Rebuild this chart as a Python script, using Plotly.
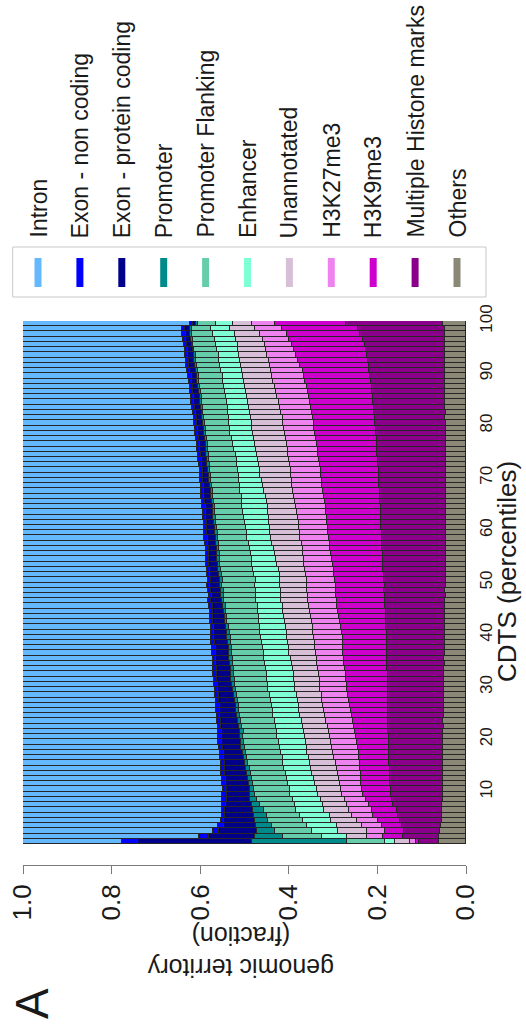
import plotly.graph_objects as go

# ---------------- data (fraction of genomic territory per CDTS percentile 1..100) ----------------
percentiles = list(range(1, 101))

categories = ["Intron", "Exon - non coding", "Exon - protein coding", "Promoter",
              "Promoter Flanking", "Enhancer", "Unannotated", "H3K27me3", "H3K9me3",
              "Multiple Histone marks", "Others"]

colors = ["#63B8FF", "#0000FF", "#00008B", "#008B8B", "#66CDAA", "#7FFFD4",
          "#D8BFD8", "#EE82EE", "#CD00CD", "#8B008B", "#8B8878"]

intron = [
    0.223, 0.398, 0.430, 0.441, 0.447, 0.449, 0.450, 0.450, 0.450, 0.450,
    0.451, 0.450, 0.449, 0.448, 0.447, 0.446, 0.445, 0.444, 0.442, 0.441,
    0.441, 0.440, 0.440, 0.439, 0.438, 0.437, 0.436, 0.435, 0.434, 0.433,
    0.432, 0.431, 0.430, 0.429, 0.429, 0.428, 0.427, 0.426, 0.425, 0.424,
    0.424, 0.423, 0.423, 0.422, 0.421, 0.420, 0.419, 0.419, 0.418, 0.417,
    0.417, 0.416, 0.415, 0.414, 0.413, 0.413, 0.412, 0.411, 0.410, 0.409,
    0.408, 0.408, 0.407, 0.406, 0.405, 0.404, 0.403, 0.402, 0.401, 0.400,
    0.400, 0.399, 0.398, 0.396, 0.395, 0.393, 0.392, 0.391, 0.389, 0.388,
    0.386, 0.385, 0.383, 0.382, 0.380, 0.379, 0.377, 0.376, 0.374, 0.373,
    0.371, 0.369, 0.368, 0.366, 0.365, 0.363, 0.362, 0.360, 0.359, 0.376]

exon_noncoding = [
    0.036, 0.021, 0.013, 0.012, 0.007, 0.007, 0.007, 0.008, 0.010, 0.010,
    0.009, 0.009, 0.009, 0.009, 0.009, 0.009, 0.009, 0.009, 0.009, 0.009,
    0.008, 0.009, 0.008, 0.008, 0.007, 0.008, 0.009, 0.008, 0.008, 0.007,
    0.008, 0.008, 0.009, 0.008, 0.007, 0.008, 0.008, 0.009, 0.008, 0.008,
    0.007, 0.007, 0.007, 0.007, 0.007, 0.007, 0.007, 0.007, 0.007, 0.007,
    0.007, 0.007, 0.007, 0.007, 0.007, 0.007, 0.007, 0.007, 0.007, 0.007,
    0.007, 0.007, 0.007, 0.007, 0.007, 0.007, 0.007, 0.007, 0.007, 0.007,
    0.007, 0.007, 0.007, 0.007, 0.007, 0.007, 0.007, 0.007, 0.007, 0.007,
    0.007, 0.007, 0.007, 0.007, 0.007, 0.007, 0.007, 0.007, 0.007, 0.007,
    0.007, 0.007, 0.007, 0.007, 0.007, 0.007, 0.007, 0.007, 0.007, 0.008]

exon_protein = [
    0.258, 0.105, 0.085, 0.073, 0.070, 0.066, 0.063, 0.059, 0.053, 0.053,
    0.052, 0.051, 0.050, 0.049, 0.047, 0.046, 0.044, 0.043, 0.042, 0.041,
    0.041, 0.041, 0.039, 0.039, 0.038, 0.037, 0.036, 0.035, 0.034, 0.033,
    0.032, 0.032, 0.031, 0.031, 0.030, 0.030, 0.030, 0.030, 0.030, 0.030,
    0.029, 0.028, 0.026, 0.026, 0.025, 0.024, 0.023, 0.022, 0.022, 0.021,
    0.020, 0.020, 0.019, 0.019, 0.019, 0.018, 0.018, 0.018, 0.018, 0.018,
    0.018, 0.016, 0.016, 0.016, 0.016, 0.015, 0.015, 0.014, 0.014, 0.013,
    0.012, 0.011, 0.011, 0.012, 0.012, 0.013, 0.013, 0.012, 0.013, 0.013,
    0.013, 0.013, 0.013, 0.013, 0.013, 0.013, 0.013, 0.013, 0.013, 0.013,
    0.013, 0.013, 0.012, 0.012, 0.011, 0.011, 0.010, 0.010, 0.011, 0.007]

promoter = [
    0.214, 0.064, 0.041, 0.036, 0.030, 0.028, 0.023, 0.017, 0.016, 0.011,
    0.010, 0.009, 0.009, 0.009, 0.009, 0.008, 0.008, 0.008, 0.008, 0.008,
    0.008, 0.008, 0.007, 0.007, 0.007, 0.007, 0.007, 0.007, 0.007, 0.007,
    0.007, 0.007, 0.007, 0.007, 0.007, 0.007, 0.007, 0.007, 0.007, 0.007,
    0.006, 0.006, 0.006, 0.006, 0.006, 0.006, 0.006, 0.006, 0.006, 0.006,
    0.006, 0.006, 0.006, 0.006, 0.006, 0.006, 0.006, 0.006, 0.006, 0.006,
    0.005, 0.005, 0.005, 0.005, 0.005, 0.005, 0.005, 0.005, 0.005, 0.005,
    0.005, 0.005, 0.005, 0.005, 0.005, 0.005, 0.005, 0.005, 0.005, 0.005,
    0.004, 0.004, 0.004, 0.004, 0.004, 0.004, 0.004, 0.004, 0.004, 0.004,
    0.004, 0.004, 0.004, 0.004, 0.004, 0.004, 0.004, 0.004, 0.004, 0.005]

promoter_flanking = [
    0.086, 0.086, 0.083, 0.080, 0.078, 0.076, 0.074, 0.080, 0.080, 0.079,
    0.080, 0.080, 0.079, 0.078, 0.078, 0.079, 0.080, 0.079, 0.079, 0.078,
    0.077, 0.076, 0.076, 0.075, 0.074, 0.075, 0.073, 0.074, 0.075, 0.073,
    0.074, 0.073, 0.074, 0.074, 0.073, 0.072, 0.071, 0.070, 0.069, 0.068,
    0.069, 0.070, 0.071, 0.071, 0.072, 0.073, 0.073, 0.073, 0.073, 0.074,
    0.074, 0.073, 0.073, 0.072, 0.071, 0.070, 0.069, 0.068, 0.066, 0.065,
    0.065, 0.065, 0.064, 0.063, 0.062, 0.063, 0.064, 0.062, 0.063, 0.064,
    0.062, 0.063, 0.063, 0.062, 0.061, 0.059, 0.057, 0.056, 0.054, 0.054,
    0.056, 0.056, 0.056, 0.056, 0.056, 0.055, 0.055, 0.054, 0.054, 0.053,
    0.052, 0.052, 0.052, 0.052, 0.052, 0.052, 0.051, 0.049, 0.043, 0.040]

enhancer = [
    0.023, 0.057, 0.060, 0.066, 0.063, 0.066, 0.063, 0.064, 0.063, 0.062,
    0.061, 0.060, 0.060, 0.060, 0.060, 0.060, 0.059, 0.059, 0.060, 0.061,
    0.062, 0.060, 0.061, 0.062, 0.061, 0.060, 0.061, 0.062, 0.061, 0.060,
    0.061, 0.062, 0.061, 0.060, 0.060, 0.059, 0.058, 0.058, 0.059, 0.060,
    0.061, 0.060, 0.059, 0.058, 0.057, 0.056, 0.056, 0.056, 0.056, 0.056,
    0.056, 0.057, 0.057, 0.057, 0.056, 0.055, 0.054, 0.053, 0.053, 0.053,
    0.054, 0.055, 0.056, 0.056, 0.057, 0.056, 0.054, 0.053, 0.051, 0.050,
    0.049, 0.049, 0.048, 0.048, 0.048, 0.049, 0.050, 0.051, 0.052, 0.051,
    0.051, 0.050, 0.050, 0.049, 0.049, 0.048, 0.048, 0.047, 0.048, 0.046,
    0.047, 0.048, 0.047, 0.046, 0.047, 0.048, 0.047, 0.048, 0.044, 0.039]

unannotated = [
    0.034, 0.045, 0.064, 0.057, 0.058, 0.050, 0.057, 0.053, 0.055, 0.055,
    0.054, 0.057, 0.058, 0.059, 0.059, 0.058, 0.058, 0.058, 0.057, 0.057,
    0.057, 0.056, 0.057, 0.055, 0.056, 0.057, 0.056, 0.055, 0.056, 0.057,
    0.057, 0.058, 0.057, 0.057, 0.058, 0.059, 0.060, 0.060, 0.061, 0.060,
    0.059, 0.060, 0.061, 0.060, 0.060, 0.059, 0.061, 0.060, 0.060, 0.061,
    0.059, 0.060, 0.060, 0.061, 0.062, 0.063, 0.065, 0.066, 0.067, 0.068,
    0.067, 0.066, 0.065, 0.065, 0.064, 0.064, 0.065, 0.066, 0.067, 0.069,
    0.070, 0.070, 0.071, 0.071, 0.071, 0.072, 0.072, 0.072, 0.072, 0.072,
    0.071, 0.071, 0.070, 0.069, 0.068, 0.068, 0.067, 0.067, 0.066, 0.065,
    0.066, 0.066, 0.065, 0.064, 0.063, 0.061, 0.060, 0.057, 0.056, 0.042]

h3k27me3 = [
    0.013, 0.037, 0.041, 0.045, 0.049, 0.049, 0.050, 0.051, 0.047, 0.048,
    0.048, 0.048, 0.049, 0.050, 0.052, 0.054, 0.056, 0.058, 0.059, 0.059,
    0.059, 0.060, 0.059, 0.060, 0.060, 0.060, 0.060, 0.060, 0.060, 0.060,
    0.060, 0.059, 0.060, 0.060, 0.060, 0.061, 0.062, 0.064, 0.063, 0.065,
    0.064, 0.063, 0.065, 0.064, 0.064, 0.063, 0.065, 0.064, 0.064, 0.065,
    0.063, 0.064, 0.064, 0.065, 0.064, 0.064, 0.063, 0.063, 0.064, 0.063,
    0.064, 0.065, 0.066, 0.067, 0.068, 0.068, 0.068, 0.068, 0.068, 0.068,
    0.068, 0.068, 0.068, 0.068, 0.068, 0.067, 0.067, 0.067, 0.067, 0.068,
    0.069, 0.069, 0.070, 0.071, 0.071, 0.072, 0.072, 0.072, 0.072, 0.072,
    0.071, 0.068, 0.066, 0.064, 0.062, 0.061, 0.059, 0.060, 0.060, 0.052]

h3k9me3 = [
    0.008, 0.044, 0.042, 0.045, 0.049, 0.056, 0.057, 0.054, 0.058, 0.062,
    0.065, 0.065, 0.066, 0.066, 0.067, 0.067, 0.068, 0.069, 0.070, 0.072,
    0.074, 0.075, 0.078, 0.080, 0.082, 0.084, 0.086, 0.088, 0.090, 0.092,
    0.092, 0.094, 0.095, 0.095, 0.097, 0.098, 0.099, 0.099, 0.099, 0.100,
    0.101, 0.102, 0.104, 0.105, 0.107, 0.108, 0.109, 0.110, 0.110, 0.111,
    0.111, 0.111, 0.112, 0.113, 0.114, 0.116, 0.117, 0.119, 0.120, 0.121,
    0.121, 0.122, 0.122, 0.123, 0.123, 0.124, 0.126, 0.127, 0.128, 0.129,
    0.129, 0.131, 0.131, 0.132, 0.133, 0.135, 0.136, 0.137, 0.138, 0.138,
    0.138, 0.139, 0.140, 0.141, 0.142, 0.143, 0.145, 0.147, 0.148, 0.150,
    0.151, 0.154, 0.157, 0.160, 0.163, 0.165, 0.168, 0.166, 0.173, 0.160]

multiple_marks = [
    0.043, 0.083, 0.082, 0.088, 0.094, 0.098, 0.102, 0.110, 0.115, 0.117,
    0.117, 0.118, 0.119, 0.119, 0.120, 0.121, 0.121, 0.122, 0.122, 0.123,
    0.123, 0.124, 0.125, 0.124, 0.126, 0.126, 0.126, 0.126, 0.127, 0.126,
    0.128, 0.128, 0.128, 0.129, 0.130, 0.129, 0.130, 0.130, 0.131, 0.131,
    0.132, 0.132, 0.133, 0.134, 0.134, 0.135, 0.136, 0.137, 0.137, 0.138,
    0.139, 0.140, 0.141, 0.141, 0.142, 0.143, 0.143, 0.144, 0.145, 0.145,
    0.146, 0.146, 0.147, 0.147, 0.148, 0.149, 0.149, 0.150, 0.151, 0.151,
    0.152, 0.152, 0.153, 0.153, 0.155, 0.154, 0.155, 0.156, 0.157, 0.158,
    0.159, 0.159, 0.161, 0.161, 0.163, 0.164, 0.165, 0.166, 0.167, 0.169,
    0.170, 0.172, 0.174, 0.176, 0.178, 0.181, 0.184, 0.192, 0.196, 0.220]

others = [
    0.062, 0.060, 0.059, 0.057, 0.055, 0.055, 0.054, 0.054, 0.053, 0.053,
    0.053, 0.053, 0.052, 0.053, 0.052, 0.052, 0.052, 0.051, 0.052, 0.051,
    0.051, 0.051, 0.050, 0.051, 0.050, 0.050, 0.050, 0.050, 0.049, 0.050,
    0.049, 0.049, 0.049, 0.049, 0.048, 0.049, 0.048, 0.048, 0.048, 0.048,
    0.047, 0.048, 0.047, 0.047, 0.047, 0.047, 0.047, 0.046, 0.047, 0.046,
    0.046, 0.046, 0.046, 0.046, 0.046, 0.045, 0.046, 0.045, 0.045, 0.045,
    0.045, 0.045, 0.045, 0.045, 0.045, 0.045, 0.045, 0.045, 0.045, 0.045,
    0.045, 0.045, 0.045, 0.046, 0.045, 0.046, 0.046, 0.046, 0.046, 0.046,
    0.046, 0.047, 0.046, 0.047, 0.047, 0.047, 0.047, 0.047, 0.048, 0.047,
    0.048, 0.048, 0.048, 0.048, 0.048, 0.048, 0.048, 0.047, 0.047, 0.051]

x_ticks = [0.0, 0.2, 0.4, 0.6, 0.8, 1.0]
x_ticktext = ["0.0", "0.2", "0.4", "0.6", "0.8", "1.0"]
y_ticks = [10, 20, 30, 40, 50, 60, 70, 80, 90, 100]

series = [intron, exon_noncoding, exon_protein, promoter, promoter_flanking, enhancer,
          unannotated, h3k27me3, h3k9me3, multiple_marks, others]

# normalise each percentile so its stack sums to exactly 1
totals = [sum(s[i] for s in series) for i in range(len(percentiles))]

# ---------------- layout geometry (pixels) ----------------
W, H = 526, 1032
L, R, T, B = 23, 466, 321, 865          # plot area incl. gap down to the fraction axis line
BAR_BOTTOM = 844

def px(xp):
    return (xp - L) / (R - L)

def py(yp):
    return (B - yp) / (B - T)

FONT = "Liberation Sans, Arial, Helvetica, sans-serif"
TXT = "#1a1a1a"

fig = go.Figure()

# stack from the bottom (Others) to the top (Intron)
for name, col, vals in reversed(list(zip(categories, colors, series))):
    fig.add_trace(go.Bar(
        x=[v / t for v, t in zip(vals, totals)],
        y=[p - 0.5 for p in percentiles],
        width=1.0,
        orientation="h",
        name=name,
        marker=dict(color=col, line=dict(color="#262626", width=1)),
        showlegend=False,
        hoverinfo="skip",
    ))

shapes = []
annotations = []

# legend box
shapes.append(dict(type="rect", xref="paper", yref="paper",
                   x0=px(12.7), x1=px(486), y0=py(297), y1=py(247),
                   line=dict(color="#c8c8c8", width=1), fillcolor="white", layer="above"))
for i, (name, col) in enumerate(zip(categories, colors)):
    cx = 38 + 41.9 * i
    shapes.append(dict(type="line", xref="paper", yref="paper",
                       x0=px(cx), x1=px(cx), y0=py(287), y1=py(258),
                       line=dict(color=col, width=7), layer="above"))
    annotations.append(dict(text=name, xref="paper", yref="paper",
                            x=px(cx), y=py(240), xanchor="center", yanchor="bottom",
                            textangle=-90, showarrow=False,
                            font=dict(family=FONT, size=23, color=TXT)))

# axis titles
annotations.append(dict(text="CDTS (percentiles)", xref="paper", yref="paper",
                        x=px(507), y=py(572), xanchor="center", yanchor="middle",
                        textangle=-90, showarrow=False,
                        font=dict(family=FONT, size=26, color=TXT)))
annotations.append(dict(text="genomic territory<br>(fraction)", xref="paper", yref="paper",
                        x=px(241), y=py(952), xanchor="center", yanchor="middle",
                        textangle=180, showarrow=False,
                        font=dict(family=FONT, size=25, color=TXT)))
annotations.append(dict(text="A", xref="paper", yref="paper",
                        x=px(32), y=py(1004), xanchor="center", yanchor="middle",
                        textangle=-90, showarrow=False,
                        font=dict(family=FONT, size=46, color=TXT)))

fig.update_layout(
    width=W, height=H,
    margin=dict(l=L, r=W - R, t=T, b=H - B, pad=0, autoexpand=False),
    paper_bgcolor="white", plot_bgcolor="white",
    barmode="stack", bargap=0,
    showlegend=False,
    font=dict(family=FONT, color=TXT),
    xaxis=dict(range=[1, 0], anchor="free", position=0, automargin=False,
               showgrid=False, zeroline=False,
               showline=True, linecolor="#7a7a7a", linewidth=1,
               ticks="outside", ticklen=8, tickcolor="#7a7a7a", tickwidth=1,
               tickvals=x_ticks, ticktext=x_ticktext, tickangle=-90,
               tickfont=dict(family=FONT, size=26, color=TXT)),
    yaxis=dict(range=[0, 100], domain=[(B - BAR_BOTTOM) / (B - T), 1], automargin=False,
               side="right", showgrid=False, zeroline=False, showline=False,
               ticks="", tickvals=y_ticks, ticktext=[str(v) for v in y_ticks],
               tickangle=-90, ticklabelstandoff=8,
               tickfont=dict(family=FONT, size=17, color=TXT)),
    shapes=shapes,
    annotations=annotations,
)

fig.write_html(
    "out.html",
    config={"displayModeBar": False},
    post_script="document.body.style.margin='0';document.body.style.overflow='hidden';",
)
